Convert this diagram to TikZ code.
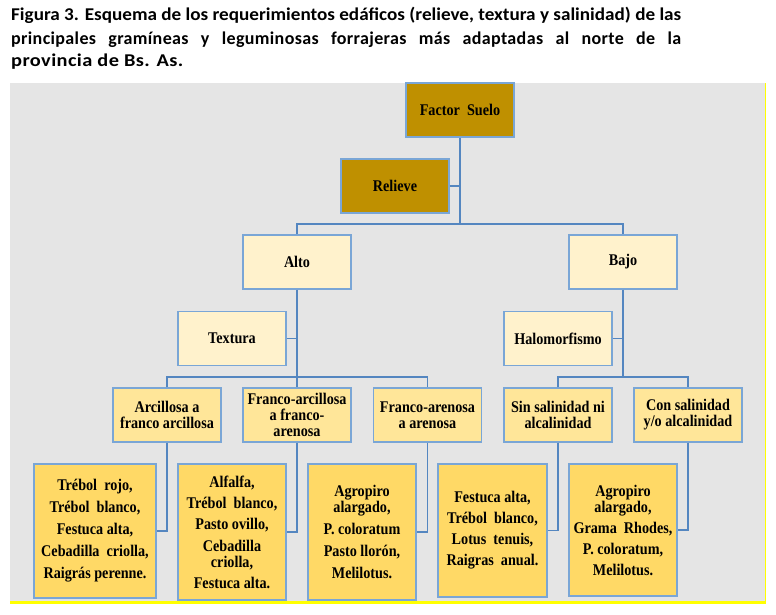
\documentclass[tikz,border=0pt]{standalone}
\usepackage{fontspec}
\setmainfont{Liberation Serif}[FakeStretch=0.87]
\newfontfamily\titlefont{Carlito}
\newfontfamily\titlefontsp{Carlito}[LetterSpace=2]
\usepackage{graphicx}
\definecolor{bggrey}{RGB}{229,229,229}
\definecolor{yel}{RGB}{255,255,0}
\definecolor{gold}{RGB}{191,144,0}
\definecolor{paleY}{RGB}{255,242,204}
\definecolor{midY}{RGB}{255,230,153}
\definecolor{deepY}{RGB}{255,217,102}
\definecolor{bordc}{RGB}{122,166,214}
\definecolor{linec}{RGB}{84,134,192}
\tikzset{
  boxbase/.style={draw=bordc, line width=1.3pt, inner sep=0pt, align=center,
    font=\bfseries\fontsize{16.3}{16}\selectfont, text=black},
  topbox/.style={boxbase, fill=gold, minimum width=108pt, minimum height=54pt},
  midbox/.style={boxbase, fill=paleY, minimum width=108pt, minimum height=54pt},
  lvfour/.style={boxbase, fill=midY, minimum width=108pt, minimum height=54pt},
  lvfive/.style={boxbase, fill=deepY, minimum width=108pt},
  conn/.style={draw=linec, line width=1.5pt},
  titleline/.style={anchor=base west, inner sep=0pt, font=\bfseries\fontsize{18}{20}\selectfont}
}
\begin{document}
\begin{tikzpicture}[x=1pt,y=-1pt]
\useasboundingbox (0,0) rectangle (776,614);
\fill[white] (0,0) rectangle (776,614);
\fill[bggrey] (10,83) rectangle (765,601);
\fill[yel] (10,601) rectangle (766,603.5);
\fill[yel] (764.5,83) rectangle (766,603.5);

% title
\node[titleline] (t1) at (11,20.5) {\titlefont\resizebox{670pt}{\height}{Figura 3. Esquema de los requerimientos edáficos (relieve, textura y salinidad) de las}};
\node[titleline] (t2) at (11,44) {\titlefontsp\makebox[670pt][s]{principales gramíneas y leguminosas forrajeras más adaptadas al norte de la}};
\node[titleline] (t3) at (11,66.5) {\titlefontsp\resizebox{172pt}{\height}{provincia de Bs. As.}};

% level 1-3
\node[topbox] (fs) at (460,110) {Factor~~Suelo};
\node[topbox] (rel) at (395,186) {Relieve};
\node[midbox] (alto) at (297,262) {Alto};
\node[midbox] (bajo) at (623,262) {Bajo};
\node[midbox] (tex) at (232,338.5) {Textura};
\node[midbox] (hal) at (558,338.5) {Halomorfismo};

% level 4
\node[lvfour] (la) at (167,415) {Arcillosa a\\franco arcillosa};
\node[lvfour] (lb) at (297,415) {Franco-arcillosa\\a franco-\\arenosa};
\node[lvfour] (lc) at (427.5,415) {Franco-arenosa\\a arenosa};
\node[lvfour] (ld) at (558,415) {Sin salinidad ni\\alcalinidad};
\node[lvfour] (le) at (688,415) {Con salinidad\\y/o alcalinidad};

% level 5
\node[lvfive, minimum width=122pt, minimum height=134pt] (ba) at (95,531)
  {Trébol~~rojo,\\[6pt]Trébol~~blanco,\\[6pt]Festuca alta,\\[6pt]Cebadilla~~criolla,\\[6pt]Raigrás perenne.};
\node[lvfive, minimum height=136pt] (bb) at (232,532)
  {Alfalfa,\\[5pt]Trébol~~blanco,\\[5pt]Pasto ovillo,\\[6pt]Cebadilla\\criolla,\\[5pt]Festuca alta.};
\node[lvfive, minimum height=136pt] (bc) at (362,532)
  {Agropiro\\alargado,\\[6pt]P. coloratum\\[6pt]Pasto llorón,\\[6pt]Melilotus.};
\node[lvfive, minimum width=109pt, minimum height=133pt] (bd) at (492.5,530.5)
  {Festuca alta,\\[5pt]Trébol~~blanco,\\[5pt]Lotus~~tenuis,\\[5pt]Raigras~~anual.};
\node[lvfive, minimum height=132pt] (be) at (623,530)
  {Agropiro\\alargado,\\[5pt]Grama~~Rhodes,\\[5pt]P. coloratum,\\[5pt]Melilotus.};

% connectors
\coordinate (busa) at (460,224);
\coordinate (busb) at (297,377);
\coordinate (busc) at (623,377);
\draw[conn] (fs.south) -- (busa);
\draw[conn] (rel.east) -- (rel.east -| busa);
\draw[conn] (alto.north) |- (busa) -| (bajo.north);
\draw[conn] (alto.south) -- (busb);
\draw[conn] (tex.east) -- (tex.east -| busb);
\draw[conn] (la.north) |- (busb) -| (lc.north);
\draw[conn] (busb) -- (lb.north);
\draw[conn] (bajo.south) -- (busc);
\draw[conn] (hal.east) -- (hal.east -| busc);
\draw[conn] (ld.north) |- (busc) -| (le.north);
\draw[conn] (la.south) |- (ba.east);
\draw[conn] (lb.south) |- (bb.east);
\draw[conn] (lc.south) |- (bc.east);
\draw[conn] (ld.south) |- (bd.east);
\draw[conn] (le.south) |- (be.east);
\end{tikzpicture}
\end{document}
